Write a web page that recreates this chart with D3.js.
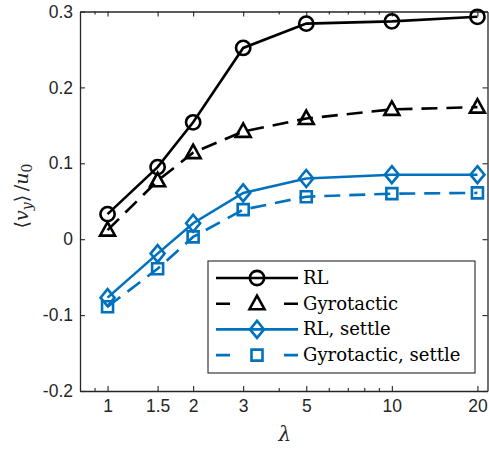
<!DOCTYPE html>
<html>
<head>
<meta charset="utf-8">
<script src="https://cdn.jsdelivr.net/npm/d3@7"></script>
<style>
  body { margin: 0; background: #fff; }
  svg { display: block; }
  .serif { font-family: "DejaVu Serif", serif; }
</style>
</head>
<body>
<div id="chart"></div>
<script>
// data
var lambdas = [1, 1.5, 2, 3, 5, 10, 20];
var rl = [0.033, 0.095, 0.154, 0.252, 0.284, 0.287, 0.293];
var gyro = [0.012, 0.077, 0.114, 0.142, 0.159, 0.171, 0.174];
var rlSettle = [-0.077, -0.019, 0.021, 0.061, 0.080, 0.085, 0.085];
var gyroSettle = [-0.089, -0.039, 0.003, 0.039, 0.056, 0.060, 0.061];
var xTicks = [1, 1.5, 2, 3, 5, 10, 20];
var xMinor = [0.9, 4, 6, 7, 8, 9];
var yTicks = [-0.2, -0.1, 0, 0.1, 0.2, 0.3];
var seriesNames = ["RL", "Gyrotactic", "RL, settle", "Gyrotactic, settle"];

var width = 489, height = 450;
var margin = { left: 80, right: 1.5, top: 11.5, bottom: 59 };
var black = "#000000", blue = "#0072BD";
var lw = 2.6;

var svg = d3.select("#chart").append("svg")
    .attr("width", width)
    .attr("height", height);

var x = d3.scaleLog().domain([0.8, 21.7]).range([margin.left, width - margin.right]);
var y = d3.scaleLinear().domain([-0.2, 0.3]).range([height - margin.bottom, margin.top]);

var x0 = x.range()[0], x1 = x.range()[1], y0 = y.range()[0], y1 = y.range()[1];

// axes (ticks inward, box on)
var axisColor = "#262626";
var tickFont = "\"Liberation Sans\", Arial, sans-serif";
var plain = function(d) { return String(d); };  // hyphen minus like the original

svg.append("g")
    .attr("transform", "translate(0," + y0 + ")")
    .call(d3.axisBottom(x).tickValues(xTicks).tickFormat(plain).tickSizeInner(-5).tickSizeOuter(0).tickPadding(9));
svg.append("g")
    .attr("transform", "translate(0," + y1 + ")")
    .call(d3.axisTop(x).tickValues(xTicks).tickFormat("").tickSizeInner(-5).tickSizeOuter(0));
svg.append("g")
    .attr("transform", "translate(" + x0 + ",0)")
    .call(d3.axisLeft(y).tickValues(yTicks).tickFormat(plain).tickSizeInner(-5).tickSizeOuter(0).tickPadding(7));
svg.append("g")
    .attr("transform", "translate(" + x1 + ",0)")
    .call(d3.axisRight(y).tickValues(yTicks).tickFormat("").tickSizeInner(-5).tickSizeOuter(0));

// minor log ticks
svg.append("g").attr("transform", "translate(0," + y0 + ")")
    .call(d3.axisBottom(x).tickValues(xMinor).tickFormat("").tickSizeInner(-3).tickSizeOuter(0))
    .select(".domain").remove();
svg.append("g").attr("transform", "translate(0," + y1 + ")")
    .call(d3.axisTop(x).tickValues(xMinor).tickFormat("").tickSizeInner(-3).tickSizeOuter(0))
    .select(".domain").remove();

svg.selectAll(".domain").attr("stroke", axisColor).attr("stroke-width", 1.3);
svg.selectAll(".tick line").attr("stroke", axisColor).attr("stroke-width", 1.1);
svg.selectAll(".tick text")
    .attr("fill", axisColor)
    .attr("font-family", tickFont)
    .attr("font-size", 17.5);

// series
var series = [
    { name: seriesNames[0], values: rl, color: black, dash: null, marker: "circle" },
    { name: seriesNames[1], values: gyro, color: black, dash: "16,9", marker: "triangle" },
    { name: seriesNames[2], values: rlSettle, color: blue, dash: null, marker: "diamond" },
    { name: seriesNames[3], values: gyroSettle, color: blue, dash: "16,9", marker: "square" }
];

var line = d3.line()
    .x(function(d) { return x(d[0]); })
    .y(function(d) { return y(d[1]); });

function markerPath(type) {
    if (type == "circle") return d3.symbol().type(d3.symbolCircle).size(160)();
    if (type == "triangle") return "M0,-8L7.5,5.5L-7.5,5.5Z";
    if (type == "diamond") return "M0,-8.5L7,0L0,8.5L-7,0Z";
    return "M-5.5,-5.5H5.5V5.5H-5.5Z";
}

series.forEach(function(s) {
    var pts = lambdas.map(function(l, i) { return [l, s.values[i]]; });
    svg.append("path")
        .datum(pts)
        .attr("d", line)
        .attr("fill", "none")
        .attr("stroke", s.color)
        .attr("stroke-width", lw)
        .attr("stroke-dasharray", s.dash);
    svg.selectAll(null)
        .data(pts)
        .enter().append("path")
        .attr("d", markerPath(s.marker))
        .attr("transform", function(d) { return "translate(" + x(d[0]) + "," + y(d[1]) + ")"; })
        .attr("fill", "none")
        .attr("stroke", s.color)
        .attr("stroke-width", lw);
});

// legend
var legend = svg.append("g").attr("transform", "translate(208,261)");
legend.append("rect")
    .attr("width", 267).attr("height", 112)
    .attr("fill", "#fff").attr("stroke", axisColor).attr("stroke-width", 1.1);

series.forEach(function(s, i) {
    var g = legend.append("g").attr("transform", "translate(0," + (17 + i * 25.7) + ")");
    g.append("line")
        .attr("x1", 8).attr("x2", 90)
        .attr("stroke", s.color).attr("stroke-width", lw)
        .attr("stroke-dasharray", s.dash ? "14,54,14" : null);
    g.append("path")
        .attr("d", markerPath(s.marker))
        .attr("transform", "translate(49,0)")
        .attr("fill", "none").attr("stroke", s.color).attr("stroke-width", lw);
    g.append("text")
        .attr("class", "serif")
        .attr("x", 95).attr("y", 6)
        .attr("font-size", 18)
        .attr("fill", "#000")
        .text(s.name);
});

// axis labels
svg.append("text")
    .attr("class", "serif")
    .attr("x", (x0 + x1) / 2 + 1)
    .attr("y", 441)
    .attr("text-anchor", "middle")
    .attr("font-style", "italic")
    .attr("font-size", 20)
    .attr("fill", axisColor)
    .text("λ");

var yl = svg.append("text")
    .attr("class", "serif")
    .attr("transform", "translate(28,196) rotate(-90)")
    .attr("text-anchor", "middle")
    .attr("font-size", 19)
    .attr("fill", axisColor);
yl.append("tspan").text("⟨");
yl.append("tspan").attr("font-style", "italic").text("v");
yl.append("tspan").attr("font-style", "italic").attr("font-size", 14).attr("dy", 4).text("y");
yl.append("tspan").attr("dy", -4).text("⟩\u2009/");
yl.append("tspan").attr("font-style", "italic").text("u");
yl.append("tspan").attr("font-size", 14).attr("dy", 4).text("0");
</script>
</body>
</html>
